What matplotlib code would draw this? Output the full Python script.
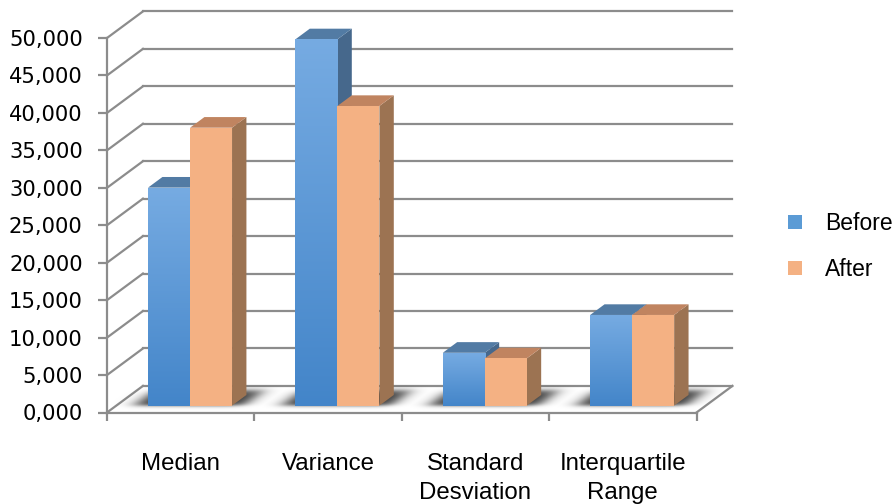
import numpy as np
import matplotlib
matplotlib.use("Agg")
import matplotlib.pyplot as plt
from matplotlib.patches import Polygon, Patch
from matplotlib.colors import LinearSegmentedColormap

categories = ["Median", "Variance", "Standard\nDesviation", "Interquartile\nRange"]
series_names = ["Before", "After"]
before = [29100, 48900, 7050, 12100]
after = [37100, 40000, 6300, 12100]
y_ticks = list(range(0, 50001, 5000))

# fake-3d geometry: depth offset of the back wall, in data units
DX = 0.244
DY = 3551.0
BAR_W = 0.285
D0, D1 = 0.26, 0.66

GRID = "#8c8c8c"
front_cols = ["#5b9bd5", "#f4b183"]
top_cols = ["#527ba4", "#c08460"]
side_cols = ["#46688c", "#9c7352"]
blue_grad = LinearSegmentedColormap.from_list("bg", ["#4385c9", "#76abe2"])


def proj(x, v, d):
    return x + d * DX, v + d * DY


fig = plt.figure(figsize=(8.95, 5.04), dpi=100)
ax = fig.add_axes([107 / 895, (504 - 412.5) / 504, (696.5 - 107) / 895, (412.5 - 38) / 504])

n = len(categories)
x_left, x_right = -0.5, n - 0.5

# back wall, left wall and floor edges
for v in y_ticks:
    bx, by = proj(x_left, v, 1)
    ax.plot([x_left, bx], [v, by], color=GRID, lw=1.6, clip_on=False, zorder=1)
    ax.plot([bx, x_right + DX], [by, by], color=GRID, lw=1.6, clip_on=False, zorder=1)
ax.plot([x_right, x_right + DX], [0, DY], color=GRID, lw=1.6, clip_on=False, zorder=1)

# soft shadow on the floor under each pair of bars
gx = np.linspace(x_left, x_right + DX + 0.1, 900)
gy = np.linspace(0, DY, 120)
GX, GY = np.meshgrid(gx, gy)
depth = GY / DY
fx = GX - depth * DX


def sig(t):
    return 1 / (1 + np.exp(-t))


shade = np.zeros_like(GX)
for i in range(n):
    a, b = i - BAR_W - 0.09, i + BAR_W + 0.08
    sx = sig((fx - a) / 0.035) * sig((b - fx) / 0.035)
    sd = sig((depth - 0.24) / 0.04) * sig((0.8 - depth) / 0.06)
    shade = np.maximum(shade, sx * sd)
rgba = np.zeros(GX.shape + (4,))
rgba[..., 3] = shade * 0.78
ax.imshow(rgba, extent=(gx[0], gx[-1], 0, DY), origin="lower", aspect="auto",
          interpolation="bilinear", zorder=2, clip_on=False)

# bars: side, top, front face (left to right so nearer faces cover hidden ones)
for s, vals in enumerate([before, after]):
    z = 3 + 2 * s
    for i, v in enumerate(vals):
        x0 = i - BAR_W + s * BAR_W
        x1 = x0 + BAR_W
        top = [proj(x0, v, D0), proj(x1, v, D0), proj(x1, v, D1), proj(x0, v, D1)]
        side = [proj(x1, 0, D0), proj(x1, v, D0), proj(x1, v, D1), proj(x1, 0, D1)]
        ax.add_patch(Polygon(side, closed=True, fc=side_cols[s], ec="none", zorder=z, clip_on=False))
        ax.add_patch(Polygon(top, closed=True, fc=top_cols[s], ec="none", zorder=z, clip_on=False))
    lefts = [i - BAR_W + s * BAR_W + D0 * DX for i in range(n)]
    bars = ax.bar(lefts, vals, width=BAR_W, bottom=D0 * DY, align="edge",
                  color=front_cols[s], zorder=z + 0.5, clip_on=False)
    if s == 0:
        grad = np.linspace(0, 1, 256).reshape(-1, 1)
        for rect, l, v in zip(bars, lefts, vals):
            im = ax.imshow(grad, extent=(l, l + BAR_W, D0 * DY, D0 * DY + v), origin="lower",
                           cmap=blue_grad, aspect="auto", zorder=z + 0.6, clip_on=False)
            im.set_clip_path(rect)

ax.set_xlim(x_left, x_right)
ax.set_ylim(0, 50000)

for side_name in ["top", "right"]:
    ax.spines[side_name].set_visible(False)
for side_name in ["left", "bottom"]:
    ax.spines[side_name].set_color(GRID)
    ax.spines[side_name].set_linewidth(1.6)

ax.set_yticks(y_ticks, ["{:.3f}".format(v / 1000).replace(".", ",") for v in y_ticks])
ax.tick_params(axis="y", length=6.5, width=1.6, color=GRID, pad=11,
               labelsize=15.2, labelfontfamily="DejaVu Sans")

ax.set_xticks(np.arange(x_left, x_right + 0.01, 1.0), [])
ax.set_xticks(range(n), categories, minor=True)
ax.tick_params(axis="x", which="major", length=5.8, width=1.6, color=GRID)
ax.tick_params(axis="x", which="minor", length=0, pad=29, labelsize=17.3,
               labelfontfamily="Liberation Sans")
for lab in ax.get_xticklabels(minor=True):
    lab.set_linespacing(1.42)

handles = [Patch(facecolor=c) for c in front_cols]
ax.legend(handles, series_names, loc="upper left", bbox_to_anchor=(788 / 895, 1 - 212 / 504),
          bbox_transform=fig.transFigure, frameon=False, borderpad=0, borderaxespad=0,
          handlelength=0.6, handleheight=0.6, handletextpad=1.0, labelspacing=1.0,
          prop={"family": "Liberation Sans", "size": 16.5})

fig.savefig("out.png", dpi=100)
